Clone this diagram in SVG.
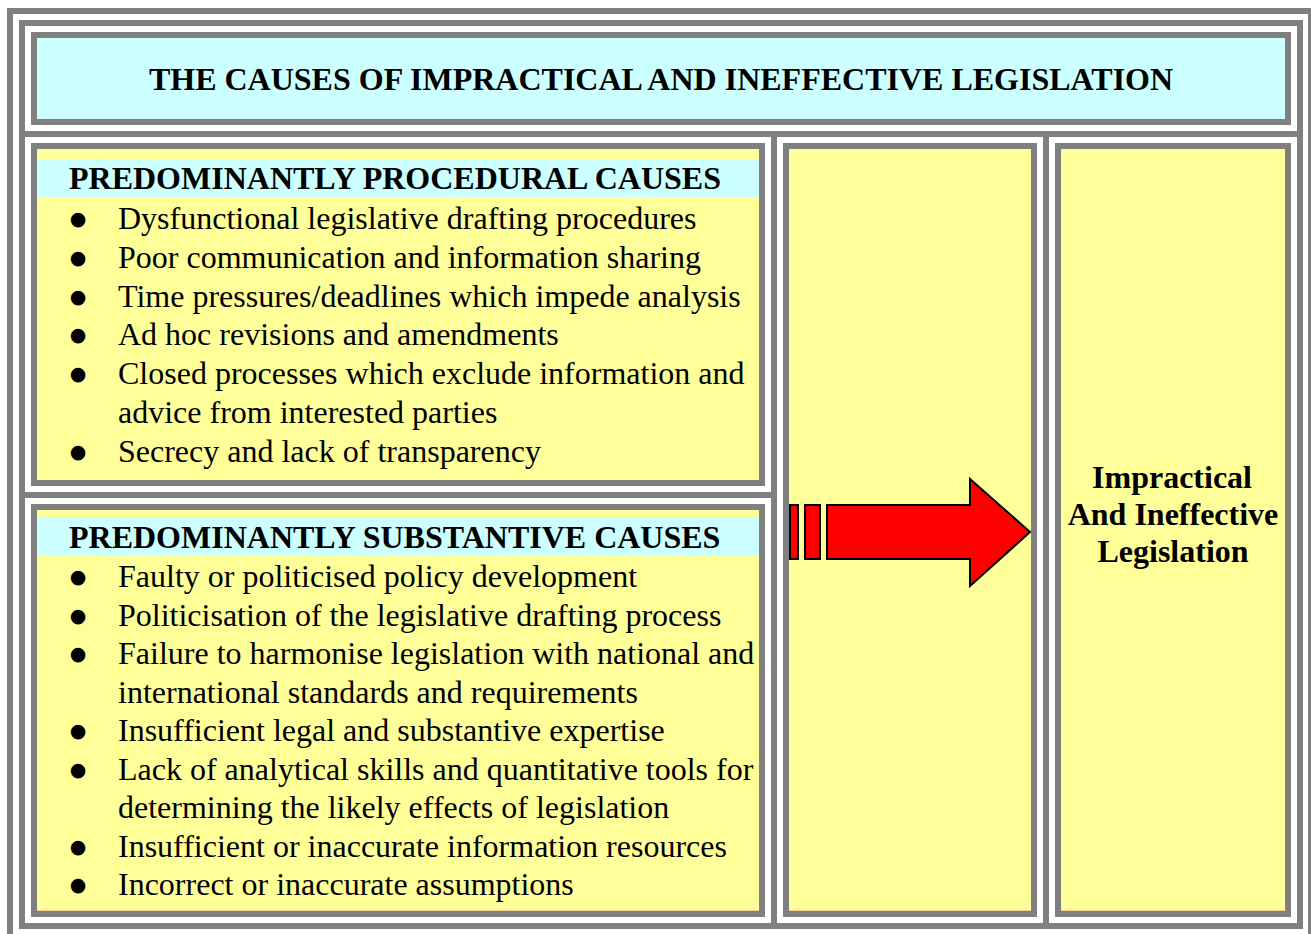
<svg xmlns="http://www.w3.org/2000/svg" width="1311" height="934" viewBox="0 0 1311 934">
<style>
.frame{fill:none;stroke:#808080;stroke-width:6}
.cellY{fill:#ffff99;stroke:#808080;stroke-width:6}
.cellC{fill:#ccffff;stroke:#808080;stroke-width:6}
.bord{fill:none;stroke:#808080;stroke-width:6}
.band{fill:#ccffff}
.edge{stroke:#ffcc99;stroke-width:1}
.t{font-family:"Liberation Serif","Times New Roman",serif;font-size:32px;fill:#000}
.b{font-weight:bold}
.bul{font-family:"DejaVu Sans",sans-serif;font-size:19px;fill:#000;text-anchor:middle}
.arr{fill:#ff0000;stroke:#000;stroke-width:2;stroke-linejoin:miter}
</style>
<rect width="1311" height="934" fill="#ffffff"/>
<g id="frames">
<rect class="frame" x="10" y="11" width="1301" height="940"/>
<rect class="frame" x="22" y="23" width="1278" height="903"/>
<line class="frame" x1="19" y1="134" x2="1303" y2="134"/>
<line class="frame" x1="774" y1="131" x2="774" y2="929"/>
<line class="frame" x1="1046" y1="131" x2="1046" y2="929"/>
<line class="frame" x1="19" y1="495" x2="777" y2="495"/>
</g>
<g id="title">
<rect class="cellC" x="34" y="35" width="1254" height="87"/>
<text class="t b" x="661" y="90" text-anchor="middle">THE CAUSES OF IMPRACTICAL AND INEFFECTIVE LEGISLATION</text>
</g>
<g id="procedural">
<rect class="cellY" x="34" y="146" width="728" height="337"/>
<rect class="band" x="37" y="160" width="722" height="37"/>
<text class="t b" x="69" y="189">PREDOMINANTLY PROCEDURAL CAUSES</text>
<text class="bul" x="78" y="224.5">●</text><text class="t" x="118" y="229">Dysfunctional legislative drafting procedures</text>
<text class="bul" x="78" y="263.5">●</text><text class="t" x="118" y="268">Poor communication and information sharing</text>
<text class="bul" x="78" y="302.5">●</text><text class="t" x="118" y="307">Time pressures/deadlines which impede analysis</text>
<text class="bul" x="78" y="340.5">●</text><text class="t" x="118" y="345">Ad hoc revisions and amendments</text>
<text class="bul" x="78" y="379.5">●</text><text class="t" x="118" y="384">Closed processes which exclude information and</text>
<text class="t" x="118" y="423">advice from interested parties</text>
<text class="bul" x="78" y="457.5">●</text><text class="t" x="118" y="462">Secrecy and lack of transparency</text>
<rect class="bord" x="34" y="146" width="728" height="337"/>
</g>
<g id="substantive">
<rect class="cellY" x="34" y="507" width="728" height="407"/>
<rect class="band" x="37" y="518" width="722" height="37"/>
<text class="t b" x="69" y="548">PREDOMINANTLY SUBSTANTIVE CAUSES</text>
<text class="bul" x="78" y="582.5">●</text><text class="t" x="118" y="587">Faulty or politicised policy development</text>
<text class="bul" x="78" y="621.5">●</text><text class="t" x="118" y="626">Politicisation of the legislative drafting process</text>
<text class="bul" x="78" y="659.5">●</text><text class="t" x="118" y="664">Failure to harmonise legislation with national and</text>
<text class="t" x="118" y="703">international standards and requirements</text>
<text class="bul" x="78" y="736.5">●</text><text class="t" x="118" y="741">Insufficient legal and substantive expertise</text>
<text class="bul" x="78" y="775.5">●</text><text class="t" x="118" y="780">Lack of analytical skills and quantitative tools for</text>
<text class="t" x="118" y="818">determining the likely effects of legislation</text>
<text class="bul" x="78" y="852.5">●</text><text class="t" x="118" y="857">Insufficient or inaccurate information resources</text>
<text class="bul" x="78" y="890.5">●</text><text class="t" x="118" y="895">Incorrect or inaccurate assumptions</text>
<line class="edge" x1="37" y1="910.5" x2="759" y2="910.5"/>
<rect class="bord" x="34" y="507" width="728" height="407"/>
</g>
<g id="middle">
<rect class="cellY" x="786" y="146" width="248" height="768"/>
<line class="edge" x1="789" y1="910.5" x2="1031" y2="910.5"/>
<rect class="bord" x="786" y="146" width="248" height="768"/>
</g>
<g id="result">
<rect class="cellY" x="1058" y="146" width="230" height="768"/>
<text class="t b" text-anchor="middle"><tspan x="1172" y="488">Impractical</tspan><tspan x="1173" y="525">And Ineffective</tspan><tspan x="1173" y="562">Legislation</tspan></text>
<line class="edge" x1="1061" y1="910.5" x2="1285" y2="910.5"/>
<rect class="bord" x="1058" y="146" width="230" height="768"/>
</g>
<g id="connectors">
<rect class="arr" x="790" y="505" width="8" height="54"/>
<rect class="arr" x="805" y="505" width="15" height="54"/>
<polygon class="arr" points="827,505 970,505 970,479 1030,532 970,586 970,559 827,559"/>
</g>
</svg>
